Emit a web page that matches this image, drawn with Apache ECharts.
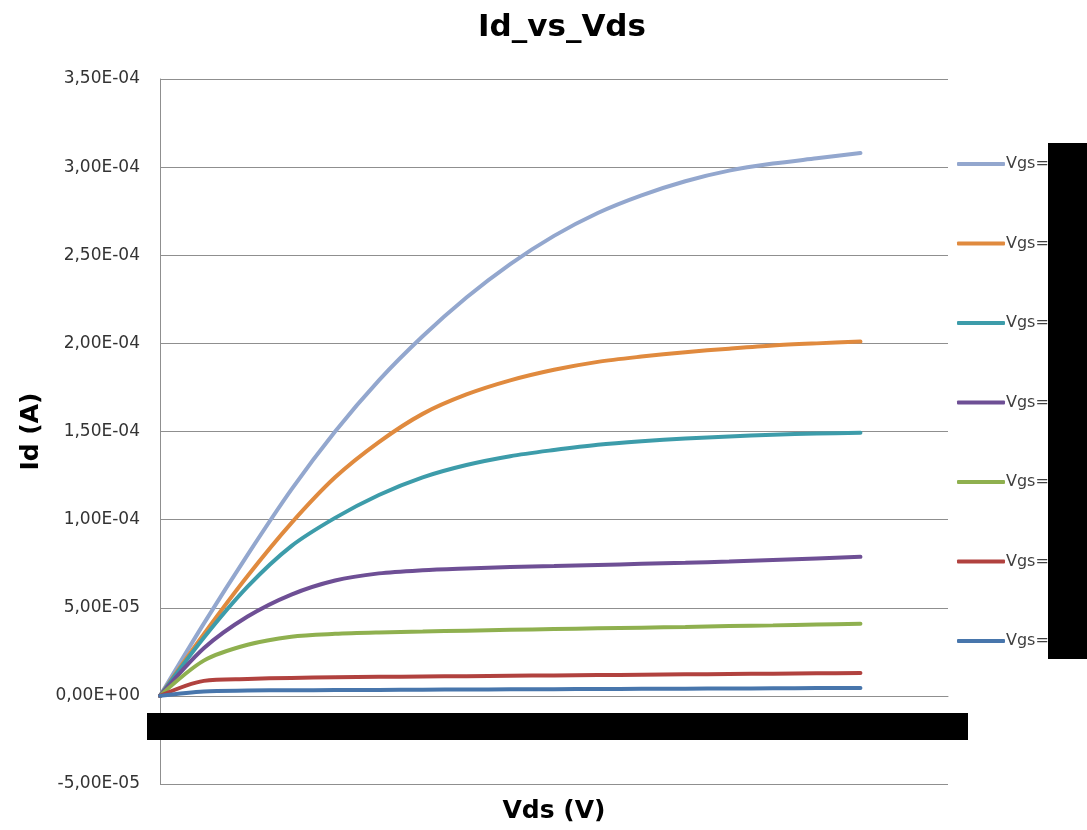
<!DOCTYPE html>
<html>
<head>
<meta charset="utf-8">
<script src="https://cdn.jsdelivr.net/npm/echarts@6/dist/echarts.min.js"></script>
<style>
  html, body { margin: 0; padding: 0; background: #ffffff; }
  #chart { width: 1087px; height: 830px; }
</style>
</head>
<body>
<div id="chart"></div>
<script>
// Drain voltage sweep (V)
const vds = [0, 0.1, 0.2, 0.3, 0.4, 0.5, 0.6, 0.7, 0.8, 0.9, 1.0, 1.1, 1.2, 1.3, 1.4, 1.5, 1.6];

// Drain current for each gate voltage, in microamps
const seriesNames = ['Vgs=1,8', 'Vgs=1,5', 'Vgs=1,2', 'Vgs=0,9', 'Vgs=0,6', 'Vgs=0,3', 'Vgs=0'];
const idVgs7 = [0, 41, 80, 117, 150, 179, 204, 226, 245, 261, 274, 284, 292, 298, 302, 305, 308];
const idVgs6 = [0, 35, 68, 98, 124, 144, 160, 171, 179, 185, 189.5, 192.5, 195, 197, 198.8, 200, 201];
const idVgs5 = [0, 33, 62, 85, 101, 114, 124, 131, 136, 139.5, 142.5, 144.5, 146, 147.2, 148.2, 148.8, 149.3];
const idVgs4 = [0, 27, 45, 57.5, 65.5, 69.5, 71.3, 72.3, 73.1, 73.7, 74.3, 74.9, 75.5, 76.2, 77.1, 78, 78.9];
const idVgs3 = [0, 20, 29, 33.6, 35.2, 36, 36.5, 37, 37.5, 37.9, 38.3, 38.7, 39.1, 39.6, 40, 40.5, 40.9];
const idVgs2 = [0, 8.5, 9.6, 10.2, 10.5, 10.8, 11, 11.2, 11.4, 11.6, 11.8, 12, 12.2, 12.4, 12.6, 12.8, 13];
const idVgs1 = [0, 2.5, 3, 3.2, 3.3, 3.4, 3.5, 3.6, 3.7, 3.8, 3.9, 4, 4.1, 4.2, 4.3, 4.4, 4.5];

const currents = [idVgs7, idVgs6, idVgs5, idVgs4, idVgs3, idVgs2, idVgs1];
const colors = ['#93A7CE', '#E08A3E', '#3D9CAA', '#6E4F95', '#8FB04F', '#B1423F', '#4876AC'];

// Y-axis ticks, in amps
const yMin = -5e-5, yMax = 3.5e-4, yStep = 5e-5;
// X-axis ticks, in volts
const xMin = 0, xMax = 1.8, xStep = 0.2;

function sciComma(v) {
  const s = Number(v).toExponential(2);      // e.g. "3.50e-4"
  const parts = s.split('e');
  const mant = parts[0].replace('.', ',');
  let exp = parseInt(parts[1], 10);
  const sign = exp < 0 ? '-' : '+';
  exp = Math.abs(exp);
  return mant + 'E' + sign + (exp < 10 ? '0' + exp : String(exp));
}

const series = currents.map((arr, i) => ({
  name: seriesNames[i],
  type: 'line',
  smooth: 0.3,
  showSymbol: false,
  symbol: 'none',
  color: colors[i],
  lineStyle: { width: 4, color: colors[i], cap: 'round' },
  data: vds.map((v, k) => [v, arr[k] * 1e-6])
}));

const chart = echarts.init(document.getElementById('chart'));
chart.setOption({
  backgroundColor: '#ffffff',
  animation: false,
  title: {
    text: 'Id_vs_Vds',
    left: 557,
    textAlign: 'center',
    top: 7,
    textStyle: { fontFamily: 'DejaVu Sans', fontWeight: 'bold', fontSize: 31, color: '#000000' }
  },
  grid: { left: 160, right: 139, top: 79, bottom: 46, outerBoundsMode: 'none', containLabel: false },
  legend: {
    orient: 'vertical',
    left: 952,
    top: 149,
    itemWidth: 48,
    itemHeight: 4,
    itemGap: 59.5,
    icon: 'roundRect',
    data: seriesNames,
    textStyle: { fontFamily: 'DejaVu Sans', fontSize: 16, color: '#404040', lineHeight: 20, padding: [0, 0, 0, -4] }
  },
  xAxis: {
    type: 'value',
    min: xMin,
    max: xMax,
    interval: xStep,
    name: 'Vds (V)',
    nameLocation: 'middle',
    nameGap: 15,
    nameTextStyle: { fontFamily: 'DejaVu Sans', fontWeight: 'bold', fontSize: 25, color: '#000000' },
    axisLine: { lineStyle: { color: '#8f8f8f', width: 1 } },
    axisTick: { show: false },
    splitLine: { show: false },
    axisLabel: { show: false }
  },
  yAxis: {
    type: 'value',
    min: yMin,
    max: yMax,
    interval: yStep,
    name: 'Id (A)',
    nameLocation: 'middle',
    nameGap: 116,
    nameRotate: 90,
    nameTextStyle: { fontFamily: 'DejaVu Sans', fontWeight: 'bold', fontSize: 25, color: '#000000' },
    axisLine: { show: true, onZero: false, lineStyle: { color: '#8f8f8f', width: 1 } },
    axisTick: { show: false },
    splitLine: { show: true, lineStyle: { color: '#8f8f8f', width: 1 } },
    axisLabel: {
      margin: 20,
      fontFamily: 'DejaVu Sans',
      fontSize: 17,
      color: '#333333',
      formatter: sciComma
    }
  },
  series: series,
  graphic: [
    { type: 'rect', z: 100, shape: { x: 147, y: 713, width: 821, height: 27 }, style: { fill: '#000000' } },
    { type: 'rect', z: 100, shape: { x: 1048, y: 143, width: 39, height: 516 }, style: { fill: '#000000' } }
  ]
});
</script>
</body>
</html>
